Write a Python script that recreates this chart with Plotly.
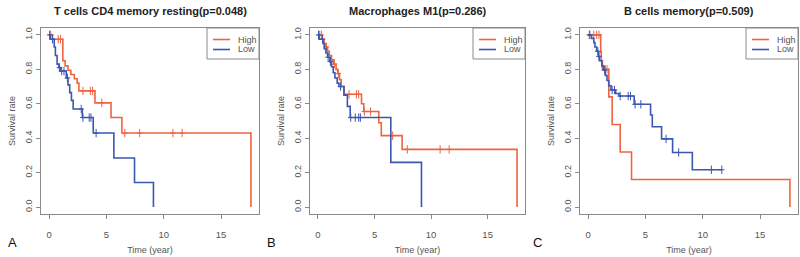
import plotly.graph_objects as go

W, H = 800, 257

panel_titles = ["T cells CD4 memory resting(p=0.048)", "Macrophages M1(p=0.286)", "B cells memory(p=0.509)"]
panel_letters = ["A", "B", "C"]
group_names = ["High", "Low"]
x_tick_vals = [0, 5, 10, 15]
y_tick_vals = [0.0, 0.2, 0.4, 0.6, 0.8, 1.0]
y_tick_text = ["0.0", "0.2", "0.4", "0.6", "0.8", "1.0"]

# ---- Panel A: T cells CD4 memory resting ----
a_high_t = [0, 0.3, 1.2, 1.4, 1.65, 1.9, 2.2, 2.45, 2.6, 4.0, 5.4, 6.35, 17.6]
a_high_s = [1.0, 0.975, 0.85, 0.82, 0.795, 0.77, 0.745, 0.72, 0.675, 0.605, 0.52, 0.43, 0.0]
a_high_cens = [0.15, 0.8, 1.0, 2.95, 3.6, 3.8, 4.6, 6.6, 7.9, 10.8, 11.6]
a_low_t = [0, 0.1, 0.45, 0.55, 0.7, 0.85, 1.0, 1.5, 1.65, 1.8, 1.95, 2.1, 2.9, 3.85, 5.65, 7.45, 9.1]
a_low_s = [1.0, 0.975, 0.93, 0.88, 0.83, 0.81, 0.79, 0.75, 0.71, 0.665, 0.62, 0.57, 0.52, 0.43, 0.285, 0.143, 0.0]
a_low_cens = [0.05, 0.3, 0.9, 1.1, 1.3, 1.6, 2.8, 2.95, 3.5, 3.65, 4.1]

# ---- Panel B: Macrophages M1 ----
b_high_t = [0, 0.35, 0.55, 0.7, 0.85, 1.0, 1.2, 1.4, 1.6, 1.75, 1.9, 2.05, 2.3, 3.85, 4.05, 5.38, 5.6, 7.44, 17.6]
b_high_s = [1.0, 0.975, 0.95, 0.93, 0.905, 0.88, 0.855, 0.83, 0.8, 0.775, 0.74, 0.70, 0.655, 0.60, 0.555, 0.49, 0.415, 0.335, 0.0]
b_high_cens = [0.15, 0.3, 0.75, 1.45, 1.8, 2.75, 3.4, 3.6, 4.1, 4.65, 6.6, 7.9, 10.8, 11.6]
b_low_t = [0, 0.1, 0.45, 0.55, 0.7, 0.85, 1.05, 1.2, 1.35, 1.5, 1.7, 1.85, 2.3, 2.6, 2.85, 6.44, 9.15]
b_low_s = [1.0, 0.975, 0.95, 0.92, 0.895, 0.87, 0.845, 0.815, 0.78, 0.75, 0.72, 0.70, 0.65, 0.585, 0.52, 0.26, 0.0]
b_low_cens = [0.05, 0.4, 0.9, 1.1, 2.0, 2.9, 3.3, 3.6, 3.75]

# ---- Panel C: B cells memory ----
c_high_t = [0, 1.1, 1.15, 1.25, 1.81, 2.1, 2.8, 3.79, 17.6]
c_high_s = [1.0, 0.9, 0.85, 0.80, 0.64, 0.48, 0.32, 0.16, 0.0]
c_high_cens = [0.1, 0.5, 0.75, 0.95, 1.5, 1.65]
c_low_t = [0, 0.3, 0.5, 0.6, 0.75, 0.9, 1.0, 1.2, 1.35, 1.5, 1.65, 1.8, 2.0, 2.4, 2.7, 4.02, 5.45, 5.6, 6.41, 7.37, 9.09, 11.66]
c_low_s = [1.0, 0.98, 0.955, 0.93, 0.905, 0.875, 0.85, 0.82, 0.795, 0.765, 0.735, 0.705, 0.68, 0.66, 0.645, 0.597, 0.535, 0.467, 0.396, 0.317, 0.217, 0.217]
c_low_cens = [0.15, 0.85, 0.95, 1.45, 2.1, 2.3, 2.8, 3.5, 3.7, 4.1, 4.6, 6.8, 7.9, 10.75, 11.66]

panels = [
    ((a_high_t, a_high_s, a_high_cens), (a_low_t, a_low_s, a_low_cens)),
    ((b_high_t, b_high_s, b_high_cens), (b_low_t, b_low_s, b_low_cens)),
    ((c_high_t, c_high_s, c_high_cens), (c_low_t, c_low_s, c_low_cens)),
]

colors = ["#EE6440", "#3B57B0"]
font_family = "Liberation Sans, Arial, sans-serif"
axis_gray = "#8a8a8a"
text_gray = "#555555"

# plot boxes in pixels (left, right, top, bottom)
boxes = [(41, 259, 28, 214), (310, 525, 28, 214), (580, 798, 28, 214)]


def px(x):
    return x / W


def py(y):
    return 1 - y / H


def step_value(ts, ss, t):
    v = ss[0]
    for ti, si in zip(ts, ss):
        if ti <= t:
            v = si
    return v


fig = go.Figure()
annotations = []
shapes = []

for i, (groups, box, title, letter) in enumerate(zip(panels, boxes, panel_titles, panel_letters)):
    xa = "x" if i == 0 else f"x{i+1}"
    ya = "y" if i == 0 else f"y{i+1}"
    for g, (ts, ss, cens) in enumerate(groups):
        fig.add_trace(go.Scatter(
            x=ts, y=ss, mode="lines", line=dict(color=colors[g], width=1.6, shape="hv"),
            name=group_names[g], showlegend=False, xaxis=xa, yaxis=ya, hoverinfo="skip"))
        cy = [step_value(ts, ss, c) for c in cens]
        fig.add_trace(go.Scatter(
            x=cens, y=cy, mode="markers",
            marker=dict(symbol="line-ns", size=6, line=dict(color=colors[g], width=1)),
            showlegend=False, xaxis=xa, yaxis=ya, hoverinfo="skip"))
        fig.add_trace(go.Scatter(
            x=cens, y=cy, mode="markers",
            marker=dict(symbol="line-ew", size=4, line=dict(color=colors[g], width=1)),
            showlegend=False, xaxis=xa, yaxis=ya, hoverinfo="skip"))

    l, r, t, b = box
    xkey = "xaxis" if i == 0 else f"xaxis{i+1}"
    ykey = "yaxis" if i == 0 else f"yaxis{i+1}"
    fig.update_layout(**{
        xkey: dict(domain=[px(l), px(r)], range=[-0.704, 18.304], anchor=ya,
                   tickvals=x_tick_vals, ticks="outside", ticklen=4, tickcolor=axis_gray,
                   ticklabelstandoff=8,
                   showline=True, linecolor=axis_gray, linewidth=1, mirror=True,
                   showgrid=False, zeroline=False, automargin=False,
                   tickfont=dict(size=9.5, color=text_gray, family=font_family),
                   title=dict(text="Time (year)", standoff=7,
                              font=dict(size=9, color=text_gray, family=font_family))),
        ykey: dict(domain=[py(b), py(t)], range=[-0.04, 1.04], anchor=xa,
                   tickvals=y_tick_vals, ticktext=y_tick_text, tickangle=-90,
                   ticks="outside", ticklen=4, tickcolor=axis_gray,
                   showline=True, linecolor=axis_gray, linewidth=1, mirror=True,
                   showgrid=False, zeroline=False, automargin=False,
                   tickfont=dict(size=9, color=text_gray, family=font_family),
                   title=dict(text="Survival rate", standoff=7,
                              font=dict(size=9, color=text_gray, family=font_family))),
    })

    # panel title
    annotations.append(dict(x=px((l + r) / 2), y=py(11), xref="paper", yref="paper",
                            text=f"<b>{title}</b>", showarrow=False,
                            xanchor="center", yanchor="middle",
                            font=dict(size=11, color="#222222", family=font_family)))
    # panel letter
    lx = [12, 271, 537][i]
    annotations.append(dict(x=px(lx), y=py(242), xref="paper", yref="paper",
                            text=letter, showarrow=False, xanchor="center", yanchor="middle",
                            font=dict(size=13, color="#111111", family=font_family)))
    # legend box (top right inside plot)
    lg_r = r
    lg_l = r - 52
    shapes.append(dict(type="rect", xref="paper", yref="paper",
                       x0=px(lg_l), x1=px(lg_r), y0=py(59), y1=py(t),
                       line=dict(color=axis_gray, width=1), fillcolor="white"))
    for g, yy in enumerate([39.5, 49.5]):
        shapes.append(dict(type="line", xref="paper", yref="paper",
                           x0=px(lg_l + 6), x1=px(lg_l + 23), y0=py(yy), y1=py(yy),
                           line=dict(color=colors[g], width=1.6)))
        annotations.append(dict(x=px(lg_l + 29), y=py(yy), xref="paper", yref="paper",
                                text=group_names[g], showarrow=False,
                                xanchor="left", yanchor="middle",
                                font=dict(size=9, color=text_gray, family=font_family)))

fig.update_layout(width=W, height=H, margin=dict(l=0, r=0, t=0, b=0),
                  paper_bgcolor="white", plot_bgcolor="white",
                  annotations=annotations, shapes=shapes, showlegend=False)

fig.write_html("out.html", config={"displayModeBar": False},
               post_script="document.body.style.margin='0';")
